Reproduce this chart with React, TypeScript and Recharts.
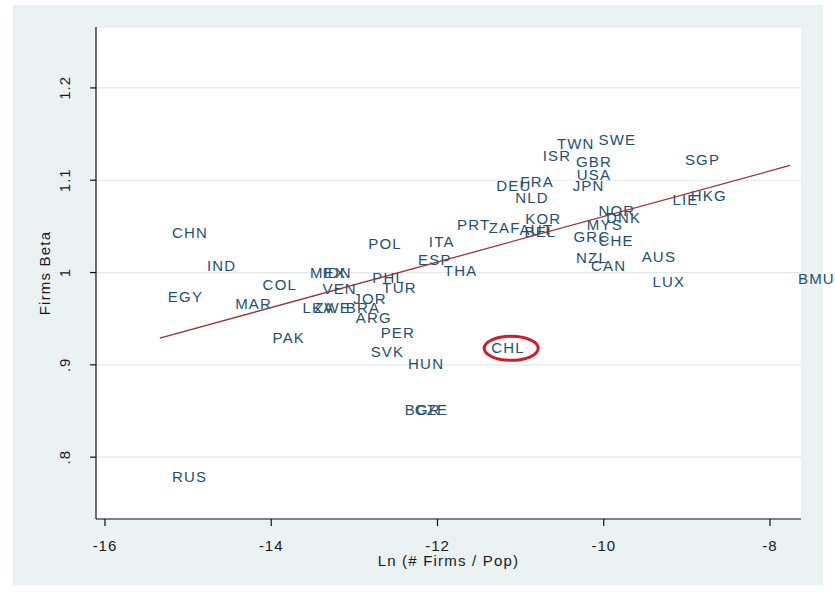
import React from "react";
import { ScatterChart, Scatter, XAxis, YAxis, CartesianGrid } from "recharts";

// country codes with ln(#firms / population) and average firm beta
const countries = [
  "CHN", "IND", "EGY", "COL", "MAR", "PAK", "RUS", "MEX", "IDN", "VEN",
  "PHL", "TUR", "JOR", "LKA", "ZWE", "BRA", "ARG", "PER", "SVK", "HUN",
  "BGR", "CZE", "POL", "ITA", "ESP", "THA", "PRT", "ZAF", "KOR", "AUT",
  "BEL", "DEU", "FRA", "NLD", "ISR", "TWN", "SWE", "GBR", "USA", "JPN",
  "NOR", "DNK", "MYS", "GRC", "CHE", "NZL", "CAN", "AUS", "LUX", "SGP",
  "LIE", "HKG", "BMU", "CHL",
];

const lnFirmsPop = [
  -15.29, -14.87, -15.34, -14.2, -14.53, -14.08, -15.29, -13.63, -13.48, -13.48,
  -12.88, -12.76, -13.11, -13.72, -13.58, -13.2, -13.08, -12.78, -12.9, -12.45,
  -12.49, -12.37, -12.93, -12.2, -12.33, -12.02, -11.86, -11.48, -11.04, -11.11,
  -11.05, -11.39, -11.1, -11.16, -10.83, -10.66, -10.16, -10.43, -10.42, -10.47,
  -10.16, -10.07, -10.3, -10.46, -10.16, -10.43, -10.25, -9.64, -9.51, -9.12,
  -9.27, -9.05, -7.76, -11.45,
];

const firmsBeta = [
  1.043, 1.007, 0.974, 0.987, 0.966, 0.929, 0.779, 1.0, 1.0, 0.983,
  0.995, 0.984, 0.972, 0.962, 0.962, 0.962, 0.951, 0.935, 0.914, 0.901,
  0.851, 0.851, 1.031, 1.034, 1.014, 1.002, 1.052, 1.049, 1.058, 1.047,
  1.044, 1.094, 1.099, 1.081, 1.127, 1.14, 1.144, 1.12, 1.106, 1.094,
  1.067, 1.06, 1.052, 1.039, 1.035, 1.016, 1.008, 1.017, 0.99, 1.122,
  1.079, 1.083, 0.993, 0.919,
];

// linear fit endpoints
const fitX = [-15.34, -7.76];
const fitY = [0.929, 1.116];

const xTicks = [-16, -14, -12, -10, -8];
const yTicks = [0.8, 0.9, 1, 1.1, 1.2];

const highlighted = "CHL";

const FONT = "'Liberation Sans', Arial, sans-serif";
const LABEL_COLOR = "#24506e";
const FIT_COLOR = "#90353b";

const points = countries.map((name, i) => ({ name, x: lnFirmsPop[i], y: firmsBeta[i] }));
const fitLine = fitX.map((x, i) => ({ x, y: fitY[i] }));

const fmtY = (v: number) => String(v).replace(/^0\./, ".");

// marker-less scatter: just the country code to the right of the point
const CountryLabel = (props: any) => {
  const { cx, cy, payload } = props;
  const tx = cx + 8;
  return (
    <g>
      <text
        x={tx}
        y={cy}
        dy="0.36em"
        fontSize={15}
        letterSpacing={1.2}
        fontFamily={FONT}
        fill={LABEL_COLOR}
      >
        {payload.name}
      </text>
      {payload.name === highlighted && (
        <ellipse cx={tx + 20} cy={cy + 1} rx={27} ry={12} fill="none" stroke="#cc1f2a" strokeWidth={3} />
      )}
    </g>
  );
};

const YTick = (props: any) => {
  const { x, y, payload } = props;
  const bx = x - 20;
  return (
    <text
      x={bx}
      y={y}
      transform={`rotate(-90, ${bx}, ${y})`}
      textAnchor="middle"
      fontSize={15}
      letterSpacing={1}
      fontFamily={FONT}
      fill="#1a1a1a"
    >
      {fmtY(payload.value)}
    </text>
  );
};

const XTick = (props: any) => {
  const { x, y, payload } = props;
  return (
    <text x={x} y={y} dy="0.71em" textAnchor="middle" fontSize={15} letterSpacing={1} fontFamily={FONT} fill="#1a1a1a">
      {payload.value}
    </text>
  );
};

export default function App() {
  return (
    <div style={{ position: "absolute", left: 0, top: 0, width: 835, height: 593, background: "#ffffff" }}>
      <div style={{ position: "absolute", left: 13, top: 5, width: 810, height: 580, background: "#eaf2f3" }} />
      <div style={{ position: "absolute", left: 0, top: 0 }}>
        <ScatterChart width={835} height={593} margin={{ top: 27, right: 34, bottom: 24, left: 0 }}>
          <CartesianGrid horizontal vertical={false} fill="#ffffff" stroke="#e3e9eb" strokeWidth={1.2} />
          <XAxis
            type="number"
            dataKey="x"
            domain={[-16.108, -7.627]}
            ticks={xTicks}
            height={50}
            tickSize={7}
            tickMargin={14}
            tick={<XTick />}
            axisLine={{ stroke: "#111", strokeWidth: 1.2 }}
            tickLine={{ stroke: "#111", strokeWidth: 1.2 }}
            label={{
              content: (p: any) => {
                const vb = p.viewBox;
                return (
                  <text
                    x={vb.x + vb.width / 2}
                    y={566}
                    textAnchor="middle"
                    fontSize={15}
                    letterSpacing={1.2}
                    fontFamily={FONT}
                    fill="#1a1a1a"
                  >
                    Ln (# Firms / Pop)
                  </text>
                );
              },
            }}
          />
          <YAxis
            type="number"
            dataKey="y"
            domain={[0.733, 1.266]}
            ticks={yTicks}
            width={96}
            tickSize={6}
            tickMargin={0}
            tick={<YTick />}
            axisLine={{ stroke: "#111", strokeWidth: 1.2 }}
            tickLine={{ stroke: "#111", strokeWidth: 1.2 }}
            label={{
              content: (p: any) => {
                const vb = p.viewBox;
                const cy = vb.y + vb.height / 2;
                return (
                  <text
                    x={50}
                    y={cy}
                    transform={`rotate(-90, 50, ${cy})`}
                    textAnchor="middle"
                    fontSize={15}
                    letterSpacing={1.2}
                    fontFamily={FONT}
                    fill="#1a1a1a"
                  >
                    Firms Beta
                  </text>
                );
              },
            }}
          />
          <Scatter data={points} shape={<CountryLabel />} isAnimationActive={false} />
          <Scatter
            data={fitLine}
            line={{ stroke: FIT_COLOR, strokeWidth: 1.3 }}
            shape={() => <g />}
            isAnimationActive={false}
          />
        </ScatterChart>
      </div>
    </div>
  );
}
